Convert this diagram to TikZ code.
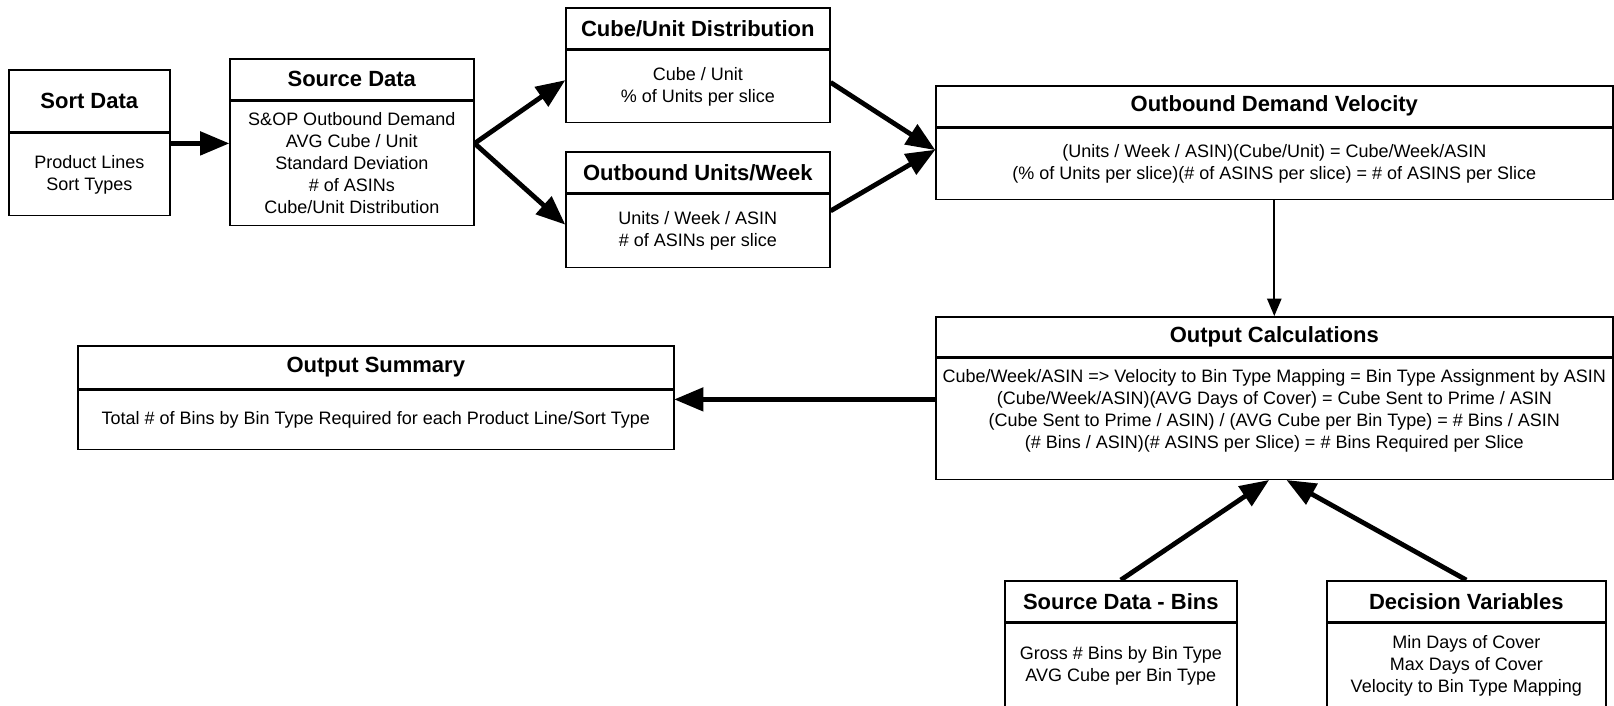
\documentclass[tikz,border=0pt]{standalone}
\usepackage{fontspec}
\setmainfont{Liberation Sans}
\usetikzlibrary{arrows}

\begin{document}
\begin{tikzpicture}[x=0.5pt,y=-0.5pt,thick,
  head/.style={draw,font=\bfseries\fontsize{11}{13}\selectfont,minimum height=20.5pt,inner sep=0pt},
  body/.style={draw,font=\fontsize{9}{11}\selectfont,align=center,inner sep=0pt},
  flow/.style={line width=2.4pt,-triangle 45}]
\useasboundingbox (0,0) rectangle (1614,706);

\node [head,anchor=north west,minimum width=80.5pt,minimum height=31pt] (sortT) at (8,69) {Sort Data};
\node [body,below=0pt,at=(sortT.south),minimum width=80.5pt,minimum height=41pt] (sortB) {Product Lines\\Sort Types};
\node [head,anchor=north west,minimum width=122pt] (srcT) at (229,58) {Source Data};
\node [body,below=0pt,at=(srcT.south),minimum width=122pt,minimum height=62pt] (srcB) {S\&OP Outbound Demand\\AVG Cube / Unit\\Standard Deviation\\\# of ASINs\\Cube/Unit Distribution};
\node [head,anchor=north west,minimum width=132pt] (cubeT) at (565,7) {Cube/Unit Distribution};
\node [body,below=0pt,at=(cubeT.south),minimum width=132pt,minimum height=36pt] (cubeB) {Cube / Unit\\\% of Units per slice};
\node [head,anchor=north west,minimum width=132pt] (unitsT) at (565,151) {Outbound Units/Week};
\node [body,below=0pt,at=(unitsT.south),minimum width=132pt,minimum height=36.5pt] (unitsB) {Units / Week / ASIN\\\# of ASINs per slice};
\node [head,anchor=north west,minimum width=338.5pt] (odvT) at (935,85) {Outbound Demand Velocity};
\node [body,below=0pt,at=(odvT.south),minimum width=338.5pt,minimum height=35.5pt] (odvB) {(Units / Week / ASIN)(Cube/Unit) = Cube/Week/ASIN\\(\% of Units per slice)(\# of ASINS per slice) = \# of ASINS per Slice};
\node [head,anchor=north west,minimum width=338.5pt,minimum height=20pt] (ocT) at (935,316) {Output Calculations};
\node [body,below=0pt,at=(ocT.south),minimum width=338.5pt,minimum height=60.5pt,text depth=10pt] (ocB) {Cube/Week/ASIN => Velocity to Bin Type Mapping = Bin Type Assignment by ASIN\\(Cube/Week/ASIN)(AVG Days of Cover) = Cube Sent to Prime / ASIN\\(Cube Sent to Prime / ASIN) / (AVG Cube per Bin Type) = \# Bins / ASIN\\(\# Bins / ASIN)(\# ASINS per Slice) = \# Bins Required per Slice};
\node [head,anchor=north west,minimum width=298pt,minimum height=21.5pt] (sumT) at (77,345) {Output Summary};
\node [body,below=0pt,at=(sumT.south),minimum width=298pt,minimum height=29.5pt] (sumB) {Total \# of Bins by Bin Type Required for each Product Line/Sort Type};
\node [head,anchor=north west,minimum width=116pt] (binsT) at (1004,580) {Source Data - Bins};
\node [body,below=0pt,at=(binsT.south),minimum width=116pt,minimum height=42pt] (binsB) {Gross \# Bins by Bin Type\\AVG Cube per Bin Type};
\node [head,anchor=north west,minimum width=139.5pt] (varsT) at (1326,580) {Decision Variables};
\node [body,below=0pt,at=(varsT.south),minimum width=139.5pt,minimum height=42pt] (varsB) {Min Days of Cover\\Max Days of Cover\\Velocity to Bin Type Mapping};

\draw [flow] ([yshift=15.5pt]sortB.east) -- ([yshift=15.5pt]sortB.east -| srcB.west);
\draw [flow] ([yshift=10pt]srcB.east) -- ([yshift=3pt]cubeB.west);
\draw [flow] ([yshift=10pt]srcB.east) -- ([yshift=3.25pt]unitsB.west);
\draw [flow] ([yshift=2pt]cubeB.east) -- ([yshift=7pt]odvB.west);
\draw [flow] ([yshift=10pt]unitsB.east) -- ([yshift=7pt]odvB.west);
\draw [line width=1pt,-triangle 45] (odvB.south) -- (ocT.north);
\draw [flow] ([yshift=9.75pt]ocB.west) -- ([yshift=9.75pt]ocB.west -| sumB.east);
\draw [flow] (binsT.north) -- ([xshift=-2.75pt]ocB.south);
\draw [flow] (varsT.north) -- ([xshift=6.25pt]ocB.south);
\end{tikzpicture}
\end{document}
